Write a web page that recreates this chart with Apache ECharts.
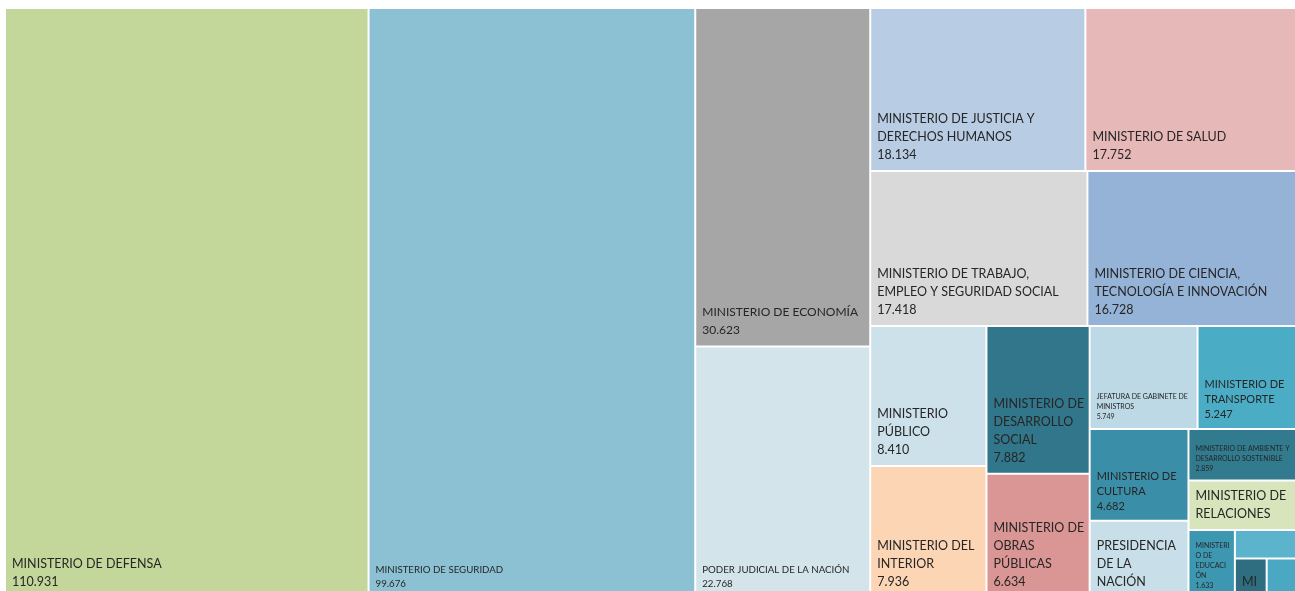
<!DOCTYPE html>
<html>
<head>
<meta charset="utf-8">
<script src="https://cdn.jsdelivr.net/npm/echarts/dist/echarts.min.js"></script>
<style>
  html, body { margin: 0; padding: 0; background: #ffffff; }
  #chart { width: 1295px; height: 591px; }
</style>
</head>
<body>
<div id="chart"></div>
<script>
const names = [
  'MINISTERIO DE DEFENSA',
  'MINISTERIO DE SEGURIDAD',
  'MINISTERIO DE ECONOMÍA',
  'PODER JUDICIAL DE LA NACIÓN',
  'MINISTERIO DE JUSTICIA Y DERECHOS HUMANOS',
  'MINISTERIO DE SALUD',
  'MINISTERIO DE TRABAJO, EMPLEO Y SEGURIDAD SOCIAL',
  'MINISTERIO DE CIENCIA, TECNOLOGÍA E INNOVACIÓN',
  'MINISTERIO PÚBLICO',
  'MINISTERIO DEL INTERIOR',
  'MINISTERIO DE DESARROLLO SOCIAL',
  'MINISTERIO DE OBRAS PÚBLICAS',
  'JEFATURA DE GABINETE DE MINISTROS',
  'MINISTERIO DE TRANSPORTE',
  'MINISTERIO DE CULTURA',
  'PRESIDENCIA DE LA NACIÓN',
  'MINISTERIO DE AMBIENTE Y DESARROLLO SOSTENIBLE',
  'MINISTERIO DE RELACIONES EXTERIORES, COMERCIO INTERNACIONAL Y CULTO',
  'MINISTERIO DE EDUCACIÓN',
  'MINISTERIO DE AGRICULTURA, GANADERÍA Y PESCA',
  'MINISTERIO DE DESARROLLO PRODUCTIVO',
  'MINISTERIO DE TURISMO Y DEPORTES'
];
const values = [
  110931, 99676, 30623, 22768, 18134, 17752, 17418, 16728,
  8410, 7936, 7882, 6634, 5749, 5247, 4682, 3950,
  2859, 2750, 1633, 900, 650, 600
];
const colors = [
  '#c4d79b', '#8cc1d4', '#a6a6a6', '#d3e4eb', '#b8cce4', '#e6b8b7', '#d9d9d9', '#95b3d7',
  '#cde1ea', '#fcd5b4', '#31768a', '#da9694', '#bcd9e5', '#4bacc6', '#3b8ea8', '#c8dfe9',
  '#327a8e', '#d8e4bc', '#3d97b1', '#5cb3cc', '#2e6e80', '#4aa8c2'
];
// label font sizes that differ from the default (style config)
const smallFont = {
  'MINISTERIO DE SEGURIDAD': 9.7,
  'MINISTERIO DE ECONOMÍA': 12,
  'PODER JUDICIAL DE LA NACIÓN': 9.7,
  'JEFATURA DE GABINETE DE MINISTROS': 7,
  'MINISTERIO DE TRANSPORTE': 11,
  'MINISTERIO DE CULTURA': 11,
  'MINISTERIO DE AMBIENTE Y DESARROLLO SOSTENIBLE': 7,
  'MINISTERIO DE EDUCACIÓN': 7
};
// labels whose text area is narrower on the right (style config)
const widePadRight = { 'MINISTERIO DE TRABAJO, EMPLEO Y SEGURIDAD SOCIAL': 16 };
const hiddenLabel = ['MINISTERIO DE AGRICULTURA, GANADERÍA Y PESCA', 'MINISTERIO DE TURISMO Y DEPORTES'];

function fmt(v) {
  return String(v).replace(/\B(?=(\d{3})+(?!\d))/g, '.');
}

const data = names.map((n, i) => {
  const fs = smallFont[n] || 12.5;
  const lh = fs >= 12 ? 18 : Math.round(fs * 1.4);
  const label = {
    show: hiddenLabel.indexOf(n) < 0,
    fontSize: fs,
    lineHeight: lh
  };
  if (widePadRight[n]) label.padding = [0, widePadRight[n], 6, 6];
  return {
    name: n,
    value: values[i],
    itemStyle: { color: colors[i] },
    label: label
  };
});

const chart = echarts.init(document.getElementById('chart'), null, { renderer: 'canvas' });
chart.setOption({
  backgroundColor: '#ffffff',
  animation: false,
  series: [{
    type: 'treemap',
    left: 6,
    top: 9,
    width: 1289,
    height: 588,
    roam: false,
    nodeClick: false,
    squareRatio: 0.85,
    breadcrumb: { show: false },
    itemStyle: { borderWidth: 0, gapWidth: 2, borderColor: '#ffffff' },
    levels: [
      { itemStyle: { borderWidth: 0, gapWidth: 2, borderColor: '#ffffff' } },
      { itemStyle: { borderWidth: 0 } }
    ],
    label: {
      show: true,
      position: 'insideBottomLeft',
      distance: 0,
      padding: [0, 1, 6, 6],
      overflow: 'break',
      color: '#262626',
      fontFamily: 'Lato',
      fontSize: 12.5,
      lineHeight: 18,
      formatter: function (p) {
        return p.name + '\n' + fmt(p.value);
      }
    },
    data: data
  }]
});
</script>
</body>
</html>
